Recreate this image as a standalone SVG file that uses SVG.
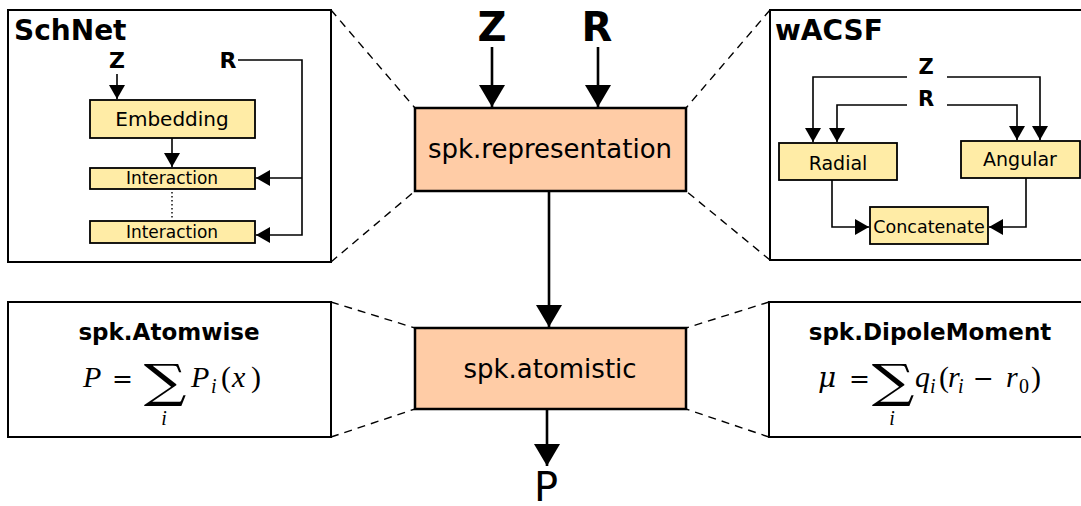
<svg xmlns="http://www.w3.org/2000/svg" width="1081" height="506" viewBox="0 0 1081 506">
<style>
.frame{fill:#fff;stroke:#000;stroke-width:2}
.main{fill:#FFCCA6;stroke:#000;stroke-width:2.5}
.sub{fill:#FFECA6;stroke:#000;stroke-width:1.8}
.ln{fill:none;stroke:#000;stroke-width:1.6}
.big{fill:none;stroke:#000;stroke-width:2.6}
.dash{fill:none;stroke:#000;stroke-width:1.4;stroke-dasharray:8 6}
.dot{fill:none;stroke:#000;stroke-width:1.4;stroke-dasharray:1.5 2.5}
text{font-family:"DejaVu Sans",sans-serif;fill:#000}
.b{font-weight:bold}
.c{text-anchor:middle}
.mi{font-family:"Liberation Serif",serif;font-style:italic}
.mr{font-family:"DejaVu Serif",serif}
.mr2{font-family:"Liberation Serif",serif}
</style>
<defs>
<marker id="ab" markerUnits="userSpaceOnUse" viewBox="0 0 22 26" markerWidth="22" markerHeight="26" refX="22" refY="13" orient="auto"><path d="M0,0 L22,13 L0,26 z" fill="#000"/></marker>
<marker id="as" markerUnits="userSpaceOnUse" viewBox="0 0 14 16" markerWidth="14" markerHeight="16" refX="14" refY="8" orient="auto"><path d="M0,0 L14,8 L0,16 z" fill="#000"/></marker>
</defs>

<g id="inputs">
<text class="b c" x="492" y="41" font-size="40">Z</text>
<text class="b c" x="597" y="41" font-size="40">R</text>
</g>

<g id="schnet">
<rect class="frame" x="8" y="10" width="323" height="252"/>
<text class="b" x="14" y="40" font-size="28">SchNet</text>
<text class="b c" x="117" y="68" font-size="22">Z</text>
<text class="b c" x="228" y="68" font-size="22">R</text>
<g id="embedding"><rect class="sub" x="90" y="100" width="165" height="38"/><text class="c" x="172" y="126" font-size="20">Embedding</text></g>
<g id="interaction1"><rect class="sub" x="90" y="168" width="165" height="21"/><text class="c" x="172" y="184" font-size="17">Interaction</text></g>
<g id="interaction2"><rect class="sub" x="90" y="221" width="165" height="22"/><text class="c" x="172" y="238" font-size="17">Interaction</text></g>
</g>

<g id="wacsf">
<rect class="frame" x="770" y="10" width="320" height="250"/>
<text class="b" x="775" y="40" font-size="28">wACSF</text>
<text class="b c" x="926" y="74" font-size="21">Z</text>
<text class="b c" x="926" y="106" font-size="21">R</text>
<g id="radial"><rect class="sub" x="779" y="143" width="118" height="37"/><text class="c" x="838" y="170" font-size="19">Radial</text></g>
<g id="angular"><rect class="sub" x="961" y="141" width="119" height="37"/><text class="c" x="1020" y="166" font-size="19">Angular</text></g>
<g id="concatenate"><rect class="sub" x="870" y="207" width="118" height="37"/><text class="c" x="929" y="233" font-size="17.5">Concatenate</text></g>
</g>

<g id="representation">
<rect class="main" x="415" y="108" width="271" height="83"/>
<text class="c" x="550" y="158" font-size="26">spk.representation</text>
</g>

<g id="atomistic">
<rect class="main" x="415" y="328" width="271" height="81"/>
<text class="c" x="550" y="378" font-size="26">spk.atomistic</text>
</g>

<g id="output">
<text class="c" x="546" y="501" font-size="40">P</text>
</g>

<g id="atomwise">
<rect class="frame" x="8" y="302" width="323" height="135"/>
<text class="b c" x="169" y="340" font-size="23">spk.Atomwise</text>
<text class="mi" x="83" y="387" font-size="30">P</text>
<text class="mr" x="112" y="387" font-size="25">=</text>
<text class="mr c" transform="translate(165,397) scale(1.3,1)" font-size="46">∑</text>
<text class="mi c" x="164" y="425" font-size="20">i</text>
<text class="mi" x="191" y="387" font-size="30">P</text>
<text class="mi" x="211" y="393" font-size="20">i</text>
<text class="mr2" x="221" y="387" font-size="30">(</text>
<text class="mi" x="232" y="387" font-size="30">x</text>
<text class="mr2" x="251" y="387" font-size="30">)</text>
</g>

<g id="dipole">
<rect class="frame" x="769" y="302" width="320" height="135"/>
<text class="b c" x="930" y="340" font-size="23">spk.DipoleMoment</text>
<text class="mr" x="818" y="387" font-size="28" font-style="italic">μ</text>
<text class="mr" x="849" y="387" font-size="25">=</text>
<text class="mr c" transform="translate(893,397) scale(1.3,1)" font-size="46">∑</text>
<text class="mi c" x="892" y="425" font-size="20">i</text>
<text class="mi" x="915" y="387" font-size="30">q</text>
<text class="mi" x="930" y="393" font-size="20">i</text>
<text class="mr2" x="939" y="387" font-size="30">(</text>
<text class="mi" x="948" y="387" font-size="30">r</text>
<text class="mi" x="958" y="393" font-size="20">i</text>
<text class="mr" x="973" y="387" font-size="25">−</text>
<text class="mi" x="1006" y="387" font-size="30">r</text>
<text class="mr2" x="1019" y="393" font-size="20">0</text>
<text class="mr2" x="1031" y="387" font-size="30">)</text>
</g>

<g id="connectors">
<path class="dash" d="M331,10 L415,108 M331,262 L415,191 M770,10 L686,108 M770,260 L686,191 M331,302 L415,328 M331,437 L415,409 M769,302 L686,328 M769,437 L686,409"/>
<path class="big" d="M492,47 V107" marker-end="url(#ab)"/>
<path class="big" d="M598,47 V107" marker-end="url(#ab)"/>
<path class="big" d="M549,191 V327" marker-end="url(#ab)"/>
<path class="big" d="M547,409 V466" marker-end="url(#ab)"/>
<path class="ln" d="M117,74 V99" marker-end="url(#as)"/>
<path class="ln" d="M172,138 V167" marker-end="url(#as)"/>
<path class="dot" d="M172,192 V219"/>
<path class="ln" d="M238,60 H302 V235 H256" marker-end="url(#as)"/>
<path class="ln" d="M302,178 H256" marker-end="url(#as)"/>
<path class="ln" d="M907,77 H813 V142" marker-end="url(#as)"/>
<path class="ln" d="M907,105 H837 V142" marker-end="url(#as)"/>
<path class="ln" d="M947,77 H1040 V140" marker-end="url(#as)"/>
<path class="ln" d="M947,105 H1017 V140" marker-end="url(#as)"/>
<path class="ln" d="M832,180 V227 H869" marker-end="url(#as)"/>
<path class="ln" d="M1026,178 V227 H989" marker-end="url(#as)"/>
</g>
</svg>
